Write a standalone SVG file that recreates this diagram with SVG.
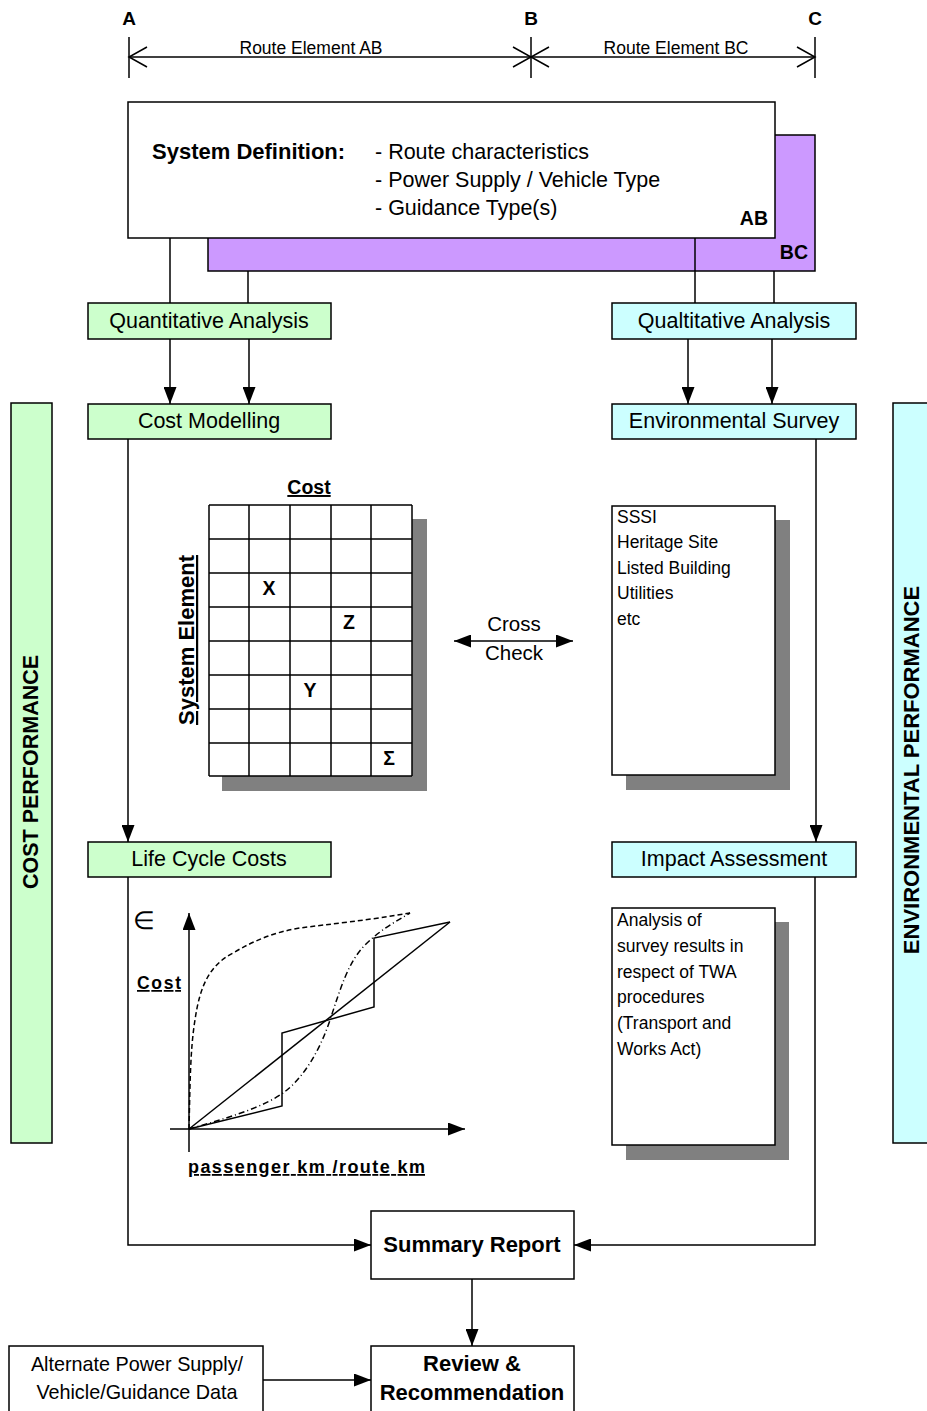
<svg xmlns="http://www.w3.org/2000/svg" width="927" height="1411" viewBox="0 0 927 1411">
<style>
text{font-family:"Liberation Sans",Arial,sans-serif;fill:#000}
.b{font-weight:bold}
.box{stroke:#000;stroke-width:1.5}
.g{fill:#CCFFCC}
.c{fill:#CCFFFF}
.w{fill:#fff}
.sh{fill:#808080}
.ln{stroke:#000;stroke-width:1.5;fill:none}
.lbl{font-size:21.5px;text-anchor:middle}
.sm{font-size:17.5px}
</style>
<defs>
<marker id="ah" viewBox="0 0 17 13" refX="17" refY="6.5" markerWidth="17" markerHeight="13" markerUnits="userSpaceOnUse" orient="auto-start-reverse">
<path d="M0,0 L17,6.5 L0,13 z" fill="#000"/>
</marker>
</defs>

<g id="dimension">
<text x="129" y="25" class="b" font-size="19" text-anchor="middle">A</text>
<text x="531" y="25" class="b" font-size="19" text-anchor="middle">B</text>
<text x="815" y="25" class="b" font-size="19" text-anchor="middle">C</text>
<line x1="129" y1="37" x2="129" y2="78" class="ln" stroke-width="1"/>
<line x1="531" y1="37" x2="531" y2="78" class="ln" stroke-width="1"/>
<line x1="815" y1="37" x2="815" y2="78" class="ln" stroke-width="1"/>
<line x1="129" y1="57" x2="815" y2="57" class="ln" stroke-width="1"/>
<path d="M147,47 L129,57 L147,67 M513,47 L531,57 L513,67 M549,47 L531,57 L549,67 M797,47 L815,57 L797,67" class="ln" stroke-width="1"/>
<text x="311" y="54" font-size="17.5" text-anchor="middle">Route Element AB</text>
<text x="676" y="54" font-size="17.5" text-anchor="middle">Route Element BC</text>
</g>

<g id="system-definition">
<rect x="208" y="135" width="607" height="136" fill="#CC99FF" class="box"/>
<rect x="128" y="102" width="647" height="136" class="box w"/>
<text x="152" y="159" class="b" font-size="22">System Definition:</text>
<text x="375" y="159" font-size="21.5">- Route characteristics</text>
<text x="375" y="187" font-size="21.5">- Power Supply / Vehicle Type</text>
<text x="375" y="215" font-size="21.5">- Guidance Type(s)</text>
<text x="768" y="225" class="b" font-size="19.5" text-anchor="end">AB</text>
<text x="808" y="259" class="b" font-size="19.5" text-anchor="end">BC</text>
</g>

<g id="quantitative-analysis">
<rect x="88" y="303" width="243" height="36" class="box g"/>
<text x="209" y="328" class="lbl">Quantitative Analysis</text>
</g>
<g id="qualitative-analysis">
<rect x="612" y="303" width="244" height="36" class="box c"/>
<text x="734" y="328" class="lbl">Qualtitative Analysis</text>
</g>
<g id="cost-modelling">
<rect x="88" y="404" width="243" height="35" class="box g"/>
<text x="209" y="428" class="lbl">Cost Modelling</text>
</g>
<g id="environmental-survey">
<rect x="612" y="404" width="244" height="35" class="box c"/>
<text x="734" y="428" class="lbl">Environmental Survey</text>
</g>
<g id="life-cycle-costs">
<rect x="88" y="842" width="243" height="35" class="box g"/>
<text x="209" y="866" class="lbl">Life Cycle Costs</text>
</g>
<g id="impact-assessment">
<rect x="612" y="842" width="244" height="35" class="box c"/>
<text x="734" y="866" class="lbl">Impact Assessment</text>
</g>

<g id="cost-performance">
<rect x="11" y="403" width="41" height="740" class="box g"/>
<text transform="translate(38,772) rotate(-90)" class="b" font-size="21.5" text-anchor="middle">COST PERFORMANCE</text>
</g>
<g id="environmental-performance">
<rect x="893" y="403" width="40" height="740" class="box c"/>
<text transform="translate(919,770) rotate(-90)" class="b" font-size="22" text-anchor="middle">ENVIRONMENTAL PERFORMANCE</text>
</g>

<g id="cost-matrix">
<rect x="222" y="519" width="205" height="272" class="sh"/>
<rect x="209" y="505" width="203" height="271" class="w"/>
<path d="M209,505 H412 M209,539 H412 M209,573 H412 M209,607 H412 M209,641 H412 M209,675 H412 M209,709 H412 M209,743 H412 M209,776 H412 M209,505 V776 M249,505 V776 M290,505 V776 M331,505 V776 M371,505 V776 M412,505 V776" class="ln"/>
<text x="309" y="494" class="b" font-size="19.5" text-anchor="middle" text-decoration="underline">Cost</text>
<text transform="translate(194,640) rotate(-90)" class="b" font-size="22" text-anchor="middle" text-decoration="underline">System Element</text>
<text x="269" y="595" class="b" font-size="19.5" text-anchor="middle">X</text>
<text x="349" y="629" class="b" font-size="19.5" text-anchor="middle">Z</text>
<text x="310" y="697" class="b" font-size="19.5" text-anchor="middle">Y</text>
<text x="389" y="765" class="b" font-size="19.5" text-anchor="middle">Σ</text>
</g>

<g id="cross-check">
<text x="514" y="631" font-size="20.5" text-anchor="middle">Cross</text>
<text x="514" y="660" font-size="20.5" text-anchor="middle">Check</text>
</g>

<g id="survey-list">
<rect x="626" y="520" width="164" height="270" class="sh"/>
<rect x="612" y="506" width="163" height="269" class="box w"/>
<text x="617" y="523" class="sm">SSSI</text>
<text x="617" y="548" class="sm">Heritage Site</text>
<text x="617" y="574" class="sm">Listed Building</text>
<text x="617" y="599" class="sm">Utilities</text>
<text x="617" y="625" class="sm">etc</text>
</g>

<g id="impact-notes">
<rect x="626" y="922" width="163" height="238" class="sh"/>
<rect x="612" y="908" width="163" height="237" class="box w"/>
<text x="617" y="926" class="sm">Analysis of</text>
<text x="617" y="952" class="sm">survey results in</text>
<text x="617" y="978" class="sm">respect of TWA</text>
<text x="617" y="1003" class="sm">procedures</text>
<text x="617" y="1029" class="sm">(Transport and</text>
<text x="617" y="1055" class="sm">Works Act)</text>
</g>

<g id="cost-chart">
<line x1="189" y1="1152" x2="189" y2="913" class="ln" marker-end="url(#ah)"/>
<line x1="170" y1="1129" x2="465" y2="1129" class="ln" marker-end="url(#ah)"/>
<path d="M189,1129 L450,922" class="ln"/>
<path d="M189,1129 L282,1106 L282,1033 L374,1007 L374,938 L450,922" class="ln"/>
<path d="M189,1129 C190,1090 190,1050 195,1020 C200,985 210,965 233,953 C255,940 275,932 300,928 C330,924 370,920 410,913" class="ln" stroke-width="1.2" stroke-dasharray="5,3"/>
<path d="M189,1129 C220,1120 265,1108 287,1090 C305,1075 320,1050 330,1020 C340,990 348,962 365,945 C380,930 395,922 410,913" class="ln" stroke-width="1.2" stroke-dasharray="6,3,1,3"/>
<text x="144" y="929" font-size="25" text-anchor="middle" font-family="DejaVu Sans, sans-serif">∈</text>
<text x="137" y="989" class="b" font-size="17.5" textLength="44" lengthAdjust="spacing" text-decoration="underline">Cost</text>
<text x="188" y="1173" class="b" font-size="18" textLength="237" lengthAdjust="spacing" text-decoration="underline">passenger km /route km</text>
</g>

<g id="summary-report">
<rect x="371" y="1211" width="203" height="68" class="box w"/>
<text x="472" y="1252" class="b" font-size="22" text-anchor="middle">Summary Report</text>
</g>
<g id="review-recommendation">
<rect x="371" y="1346" width="203" height="75" class="box w"/>
<text x="472" y="1371" class="b" font-size="22" text-anchor="middle">Review &amp;</text>
<text x="472" y="1400" class="b" font-size="22" text-anchor="middle">Recommendation</text>
</g>
<g id="alternate-data">
<rect x="9" y="1346" width="254" height="75" class="box w"/>
<text x="137" y="1371" font-size="19.8" text-anchor="middle">Alternate Power Supply/</text>
<text x="137" y="1399" font-size="19.8" text-anchor="middle">Vehicle/Guidance Data</text>
</g>

<g id="connectors">
<line x1="170" y1="238" x2="170" y2="303" class="ln"/>
<line x1="248" y1="271" x2="248" y2="303" class="ln"/>
<line x1="695" y1="238" x2="695" y2="303" class="ln"/>
<line x1="774" y1="271" x2="774" y2="303" class="ln"/>
<line x1="170" y1="339" x2="170" y2="404" class="ln" marker-end="url(#ah)"/>
<line x1="249" y1="339" x2="249" y2="404" class="ln" marker-end="url(#ah)"/>
<line x1="688" y1="339" x2="688" y2="404" class="ln" marker-end="url(#ah)"/>
<line x1="772" y1="339" x2="772" y2="404" class="ln" marker-end="url(#ah)"/>
<line x1="128" y1="439" x2="128" y2="842" class="ln" marker-end="url(#ah)"/>
<line x1="816" y1="439" x2="816" y2="842" class="ln" marker-end="url(#ah)"/>
<path d="M128,877 V1245 H371" class="ln" marker-end="url(#ah)"/>
<path d="M815,877 V1245 H574" class="ln" marker-end="url(#ah)"/>
<line x1="472" y1="1279" x2="472" y2="1346" class="ln" marker-end="url(#ah)"/>
<line x1="263" y1="1380" x2="371" y2="1380" class="ln" marker-end="url(#ah)"/>
<line x1="454" y1="641" x2="573" y2="641" class="ln" marker-start="url(#ah)" marker-end="url(#ah)"/>
</g>
</svg>
